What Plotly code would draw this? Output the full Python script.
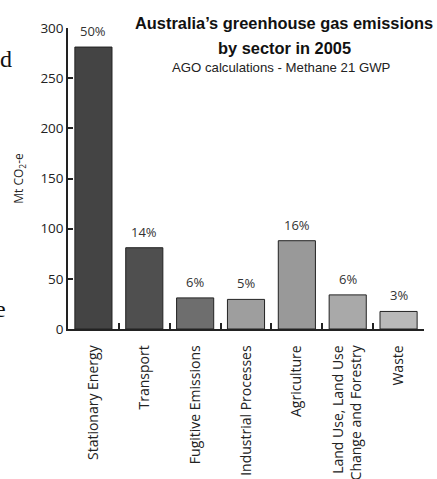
import plotly.graph_objects as go

categories = ["Stationary Energy", "Transport", "Fugitive Emissions", "Industrial Processes",
              "Agriculture", "Land Use, Land Use<br>Change and Forestry", "Waste"]
emissions = [281, 81, 31, 29.5, 88, 34, 17.5]
shares = ["50%", "14%", "6%", "5%", "16%", "6%", "3%"]
bar_colors = ["#444444", "#4f4f4f", "#6e6e6e", "#9e9e9e", "#999999", "#a9a9a9", "#b9b9b9"]
y_ticks = [0, 50, 100, 150, 200, 250, 300]

y_tick_font = dict(family="Open Sans", size=13.5, color="#222222")
x_tick_font = dict(family="Open Sans", size=14, color="#222222")

fig = go.Figure()
fig.add_trace(go.Bar(
    x=categories, y=emissions,
    marker=dict(color=bar_colors, line=dict(color="#222222", width=1)),
    hoverinfo="skip",
))

for c, v, s in zip(categories, emissions, shares):
    fig.add_annotation(x=c, y=v, text=s, showarrow=False, xref="x", yref="y",
                       yanchor="bottom", yshift=5,
                       font=dict(family="Open Sans", size=13, color="#333333"))

# titles
fig.add_annotation(text="<b>Australia’s greenhouse gas emissions</b>", xref="paper", yref="paper",
                   x=0.607, y=1.015, xanchor="center", yanchor="middle", showarrow=False,
                   font=dict(family="Liberation Sans", size=16.4, color="#111111"))
fig.add_annotation(text="<b>by sector in 2005</b>", xref="paper", yref="paper",
                   x=0.607, y=0.935, xanchor="center", yanchor="middle", showarrow=False,
                   font=dict(family="Liberation Sans", size=16.4, color="#111111"))
fig.add_annotation(text="AGO calculations - Methane 21 GWP", xref="paper", yref="paper",
                   x=0.600, y=0.868, xanchor="center", yanchor="middle", showarrow=False,
                   font=dict(family="Liberation Sans", size=13.2, color="#222222"))

# page fragments visible at left edge of the reference
fig.add_annotation(text="d", xref="paper", yref="paper", x=0, y=1.0, xanchor="left",
                   yanchor="middle", xshift=-70, yshift=-31, showarrow=False,
                   font=dict(family="Liberation Serif", size=24, color="#111111"))
fig.add_annotation(text="e", xref="paper", yref="paper", x=0, y=0.0, xanchor="left",
                   yanchor="middle", xshift=-75, yshift=20, showarrow=False,
                   font=dict(family="Liberation Serif", size=24, color="#111111"))

fig.update_layout(
    width=437, height=479,
    margin=dict(l=68, r=13, t=28, b=150),
    paper_bgcolor="white", plot_bgcolor="white",
    bargap=0.27, showlegend=False,
    xaxis=dict(
        type="category", range=[-0.5, 6.5], automargin=False,
        showline=True, linecolor="#222222", linewidth=1.5,
        ticks="inside", tickson="boundaries", ticklen=6, tickcolor="#222222", tickwidth=1.5,
        tickangle=-90, tickfont=x_tick_font, showgrid=False, zeroline=False,
        ticklabelstandoff=9,
    ),
    yaxis=dict(
        range=[0, 300], tickvals=y_ticks, automargin=False,
        showline=True, linecolor="#222222", linewidth=1.5,
        ticks="inside", ticklen=5, tickcolor="#222222", tickwidth=1.5,
        tickfont=y_tick_font, showgrid=False, zeroline=False,
        title=dict(text="Mt CO<sub>2</sub>-e", font=dict(family="Open Sans", size=12, color="#222222"),
                   standoff=14),
    ),
)

fig.write_html("out.html", config={"displayModeBar": False},
               post_script="document.body.style.margin='0';document.body.style.overflow='hidden';")
